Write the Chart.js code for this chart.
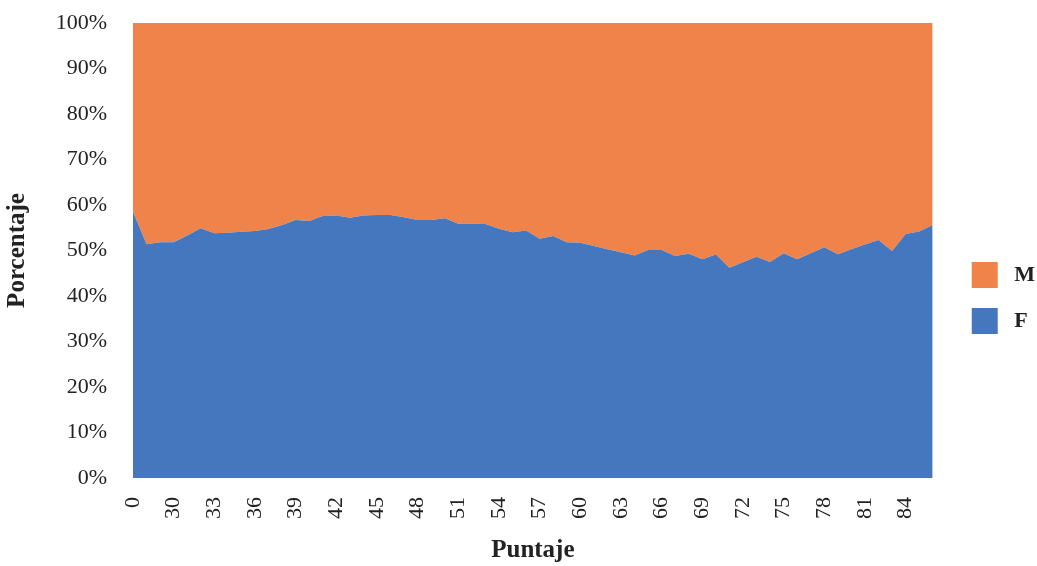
<!DOCTYPE html>
<html>
<head>
<meta charset="utf-8">
<script src="https://cdn.jsdelivr.net/npm/chart.js@4.4.1/dist/chart.umd.min.js"></script>
<style>
  html, body { margin: 0; padding: 0; background: #ffffff; }
  #wrap { width: 1037px; height: 566px; }
</style>
</head>
<body>
<div id="wrap"><canvas id="chart" width="1037" height="566"></canvas></div>
<script>
// Puntaje categories (score values)
const categories = ['0', '28', '29', '30', '31', '32', '33', '34', '35', '36', '37', '38', '39', '40', '41',
  '42', '43', '44', '45', '46', '47', '48', '49', '50', '51', '52', '53', '54', '55', '56', '57', '58',
  '59', '60', '61', '62', '63', '64', '65', '66', '67', '68', '69', '70', '71', '72', '73', '74', '75',
  '76', '77', '78', '79', '80', '81', '82', '83', '84', '85', '86'];

// Share of F per score (%)
const seriesF = [58.5, 51.4, 51.8, 51.8, 53.3, 54.9, 53.8, 53.9, 54.1, 54.3, 54.7, 55.6, 56.7, 56.5, 57.6,
  57.7, 57.2, 57.7, 57.8, 57.8, 57.3, 56.7, 56.7, 57.1, 55.9, 55.9, 55.8, 54.8, 54.0, 54.4, 52.6, 53.2,
  51.8, 51.7, 51.0, 50.3, 49.6, 48.9, 50.1, 50.1, 48.8, 49.3, 48.1, 49.1, 46.2, 47.4, 48.6, 47.5, 49.4,
  48.1, 49.4, 50.7, 49.2, 50.3, 51.3, 52.3, 49.9, 53.6, 54.2, 55.6];

// Share of M per score (%)
const seriesM = [41.5, 48.6, 48.2, 48.2, 46.7, 45.1, 46.2, 46.1, 45.9, 45.7, 45.3, 44.4, 43.3, 43.5, 42.4,
  42.3, 42.8, 42.3, 42.2, 42.2, 42.7, 43.3, 43.3, 42.9, 44.1, 44.1, 44.2, 45.2, 46.0, 45.6, 47.4, 46.8,
  48.2, 48.3, 49.0, 49.7, 50.4, 51.1, 49.9, 49.9, 51.2, 50.7, 51.9, 50.9, 53.8, 52.6, 51.4, 52.5, 50.6,
  51.9, 50.6, 49.3, 50.8, 49.7, 48.7, 47.7, 50.1, 46.4, 45.8, 44.4];

// Y axis tick values (%)
const yTicks = [0, 10, 20, 30, 40, 50, 60, 70, 80, 90, 100];

const serif = "'Liberation Serif', 'Times New Roman', serif";
const textColor = '#222222';
const hidden = 'rgba(0,0,0,0)';

new Chart(document.getElementById('chart'), {
  type: 'line',
  data: {
    labels: categories,
    datasets: [
      {
        label: 'F',
        data: seriesF,
        backgroundColor: '#4577BE',
        borderWidth: 0,
        pointRadius: 0,
        fill: 'origin',
        tension: 0
      },
      {
        label: 'M',
        data: seriesM,
        backgroundColor: '#F0834A',
        borderWidth: 0,
        pointRadius: 0,
        fill: '-1',
        tension: 0
      }
    ]
  },
  options: {
    responsive: false,
    animation: false,
    layout: { padding: { top: 23, left: 0, right: -8, bottom: 0 } },
    plugins: {
      tooltip: { enabled: false },
      legend: {
        position: 'right',
        reverse: true,
        title: {
          display: true,
          text: ' ',
          font: { size: 6 },
          padding: 0
        },
        labels: {
          boxWidth: 26,
          boxHeight: 26,
          padding: 20,
          color: textColor,
          font: { family: serif, size: 22, weight: 'bold' },
          generateLabels: function (chart) {
            const items = Chart.defaults.plugins.legend.labels.generateLabels(chart);
            items.forEach(it => { it.text = ' ' + it.text; });
            return items;
          }
        }
      }
    },
    scales: {
      x: {
        stacked: true,
        offset: false,
        grid: { display: true, color: hidden, drawTicks: true, tickLength: 19 },
        border: { display: false },
        ticks: {
          autoSkip: false,
          minRotation: 90,
          maxRotation: 90,
          padding: 0,
          color: textColor,
          font: { family: serif, size: 22 },
          callback: function (value, index) {
            return index % 3 === 0 ? categories[index] : '';
          }
        },
        title: {
          display: true,
          text: 'Puntaje',
          color: textColor,
          font: { family: serif, size: 25, weight: 'bold' },
          padding: { top: 0, bottom: 0 }
        },
        afterFit: function (scale) { scale.height = 88; }
      },
      y: {
        stacked: true,
        min: 0,
        max: 100,
        afterBuildTicks: function (scale) {
          scale.ticks = yTicks.map(v => ({ value: v }));
        },
        grid: { display: true, color: hidden, drawTicks: true, tickLength: 26 },
        border: { display: false },
        ticks: {
          padding: 0,
          color: textColor,
          font: { family: serif, size: 22 },
          callback: function (value) { return value + '%'; }
        },
        title: {
          display: true,
          text: 'Porcentaje',
          color: textColor,
          font: { family: serif, size: 25, weight: 'bold' },
          padding: { top: 3, bottom: 0 }
        },
        afterFit: function (scale) { scale.width = 133; }
      },
      // empty right-hand spacer between the plot and the legend
      gap: {
        type: 'linear',
        position: 'right',
        display: true,
        grid: { display: false, drawTicks: false },
        border: { display: false },
        ticks: { display: false },
        afterFit: function (scale) { scale.width = 19; }
      }
    }
  }
});
</script>
</body>
</html>
